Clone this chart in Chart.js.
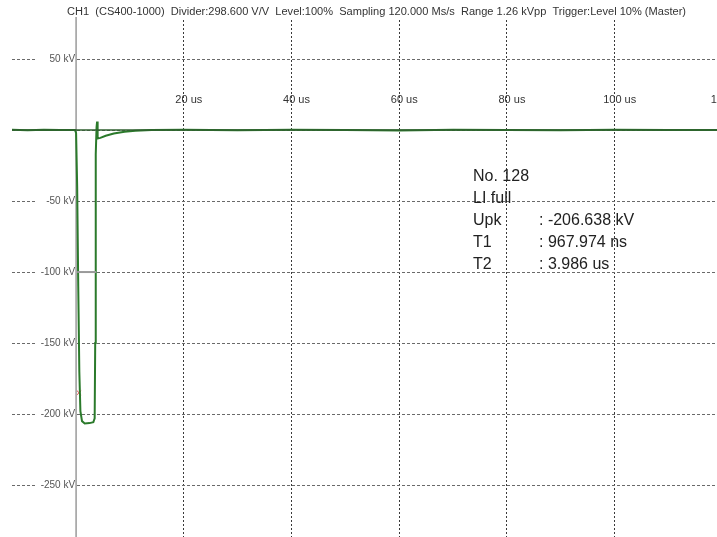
<!DOCTYPE html>
<html>
<head>
<meta charset="utf-8">
<script src="https://cdn.jsdelivr.net/npm/chart.js@4.4.0/dist/chart.umd.min.js"></script>
<style>
  html, body { margin: 0; padding: 0; background: #fff; overflow: hidden; }
  #wrap { width: 717px; height: 537px; }
</style>
</head>
<body>
<div id="wrap"><canvas id="scope" width="717" height="537"></canvas></div>
<script>
const ctx = document.getElementById("scope").getContext("2d");

// impulse record, time in us, voltage in kV
const traceTime = [-12, -9, -6, -3, -0.2, 0, 0.2, 0.4, 0.6, 0.8, 1.1, 1.6, 2.5, 3.2, 3.45, 3.55, 3.62, 3.68, 3.8, 3.9, 4.0, 4.5, 5.5, 7, 9, 11, 14, 20, 30, 40, 50, 60, 70, 80, 90, 100, 110, 119];
const traceKv   = [0.2, -0.2, 0.2, 0, 0, -2, -40, -110, -170, -198, -205, -206.6, -206.4, -205.8, -203, -150, -60, -17, 2, 6, -6, -5.5, -4, -2.5, -1.2, -0.5, 0, 0.2, -0.2, 0.2, 0, -0.3, 0.2, 0, -0.2, 0.2, 0, 0];

const baselineTime = [-12, 119];
const baselineKv = [0, 0];

const t2Time = [0.2, 3.7];
const t2Kv = [-100, -100];

const peakTime = [0.55];
const peakKv = [-185];

const xTickVals = [20, 40, 60, 80, 100, 120];
const yTickVals = [50, -50, -100, -150, -200, -250];

const titleText = "CH1  (CS400-1000)  Divider:298.600 V/V  Level:100%  Sampling 120.000 Ms/s  Range 1.26 kVpp  Trigger:Level 10% (Master)";
const infoLabels = ["No. 128", "LI full", "Upk", "T1", "T2"];
const infoValues = ["", "", ": -206.638 kV", ": 967.974 ns", ": 3.986 us"];

const toPoints = (xs, ys) => xs.map((x, i) => ({ x: x, y: ys[i] }));

const scopeText = {
  id: "scopeText",
  beforeDatasetsDraw(chart) {
    const c = chart.ctx;
    const xs = chart.scales.x;
    const ys = chart.scales.y;
    const x0 = xs.getPixelForValue(0);
    c.save();
    // y labels sit left of the zero-time axis and break the grid
    c.font = "10px 'Liberation Sans', Arial, sans-serif";
    c.textAlign = "right";
    c.textBaseline = "middle";
    yTickVals.forEach(v => {
      const py = ys.getPixelForValue(v);
      c.fillStyle = "#fff";
      c.fillRect(36, py - 6, x0 - 36, 12);
      c.fillStyle = "#555";
      c.fillText(v + " kV", x0 - 1, py);
    });
    // solid axis at t = 0
    c.strokeStyle = "#9a9a9a";
    c.lineWidth = 1.5;
    c.beginPath();
    c.moveTo(x0, 17);
    c.lineTo(x0, chart.height);
    c.stroke();
    // time labels
    c.font = "11px 'Liberation Sans', Arial, sans-serif";
    c.textAlign = "center";
    c.fillStyle = "#333";
    xTickVals.forEach(v => {
      c.fillText(v + " us", xs.getPixelForValue(v) + 5, 100);
    });
    c.restore();
  },
  afterDraw(chart) {
    const c = chart.ctx;
    c.save();
    // header line, squeezed to the width of the original
    c.font = "10px 'Liberation Sans', Arial, sans-serif";
    c.fillStyle = "#333";
    c.textBaseline = "middle";
    const w = c.measureText(titleText).width;
    const sx = 619 / w;
    c.translate(67, 12);
    c.scale(sx, 1);
    c.fillText(titleText, 0, 0);
    c.restore();

    c.save();
    c.font = "16px 'Liberation Sans', Arial, sans-serif";
    c.fillStyle = "#222";
    c.textBaseline = "middle";
    infoLabels.forEach((lab, i) => {
      const py = 177 + i * 22;
      c.fillText(lab, 473, py);
      if (infoValues[i]) c.fillText(infoValues[i], 539, py);
    });
    c.restore();
  }
};

const scopeChart = new Chart(ctx, {
  type: "scatter",
  data: {
    datasets: [
      {
        data: toPoints(baselineTime, baselineKv),
        showLine: true,
        borderColor: "#2f5f2f",
        borderWidth: 1.5,
        pointRadius: 0
      },
      {
        data: toPoints(t2Time, t2Kv),
        showLine: true,
        borderColor: "#9a9a9a",
        borderWidth: 2,
        pointRadius: 0
      },
      {
        data: toPoints(traceTime, traceKv),
        showLine: true,
        borderColor: "#2b7a2b",
        borderWidth: 2,
        pointRadius: 0,
        tension: 0
      },
      {
        data: toPoints(peakTime, peakKv),
        pointStyle: "crossRot",
        pointRadius: 3,
        borderColor: "#e05050",
        borderWidth: 1,
        showLine: false
      }
    ]
  },
  options: {
    responsive: false,
    animation: false,
    devicePixelRatio: 1,
    layout: { autoPadding: false, padding: { left: 12, top: 20, right: 0, bottom: 0 } },
    plugins: {
      legend: { display: false },
      tooltip: { enabled: false },
      title: { display: false }
    },
    scales: {
      x: {
        type: "linear",
        min: -11.9,
        max: 119,
        afterBuildTicks: s => {
          s.ticks = s.ticks.filter(t => t.value % 20 === 0 && t.value !== 0);
        },
        afterFit: s => {
          s.height = 0;
          s.paddingLeft = 0;
          s.paddingRight = 0;
        },
        ticks: { display: false, stepSize: 20, padding: 0 },
        grid: { color: "#3a3a3a", lineWidth: 1, drawTicks: false, tickLength: 0 },
        border: { display: false, dash: [2, 2] }
      },
      y: {
        type: "linear",
        min: -286.6,
        max: 77.5,
        afterBuildTicks: s => {
          s.ticks = s.ticks.filter(t => t.value % 50 === 0);
        },
        afterFit: s => {
          s.width = 0;
          s.paddingTop = 0;
          s.paddingBottom = 0;
        },
        ticks: { display: false, stepSize: 50, padding: 0 },
        grid: { color: "#6a6a6a", lineWidth: 1, drawTicks: false, tickLength: 0 },
        border: { display: false, dash: [3, 2] }
      }
    }
  },
  plugins: [scopeText]
});
</script>
</body>
</html>
